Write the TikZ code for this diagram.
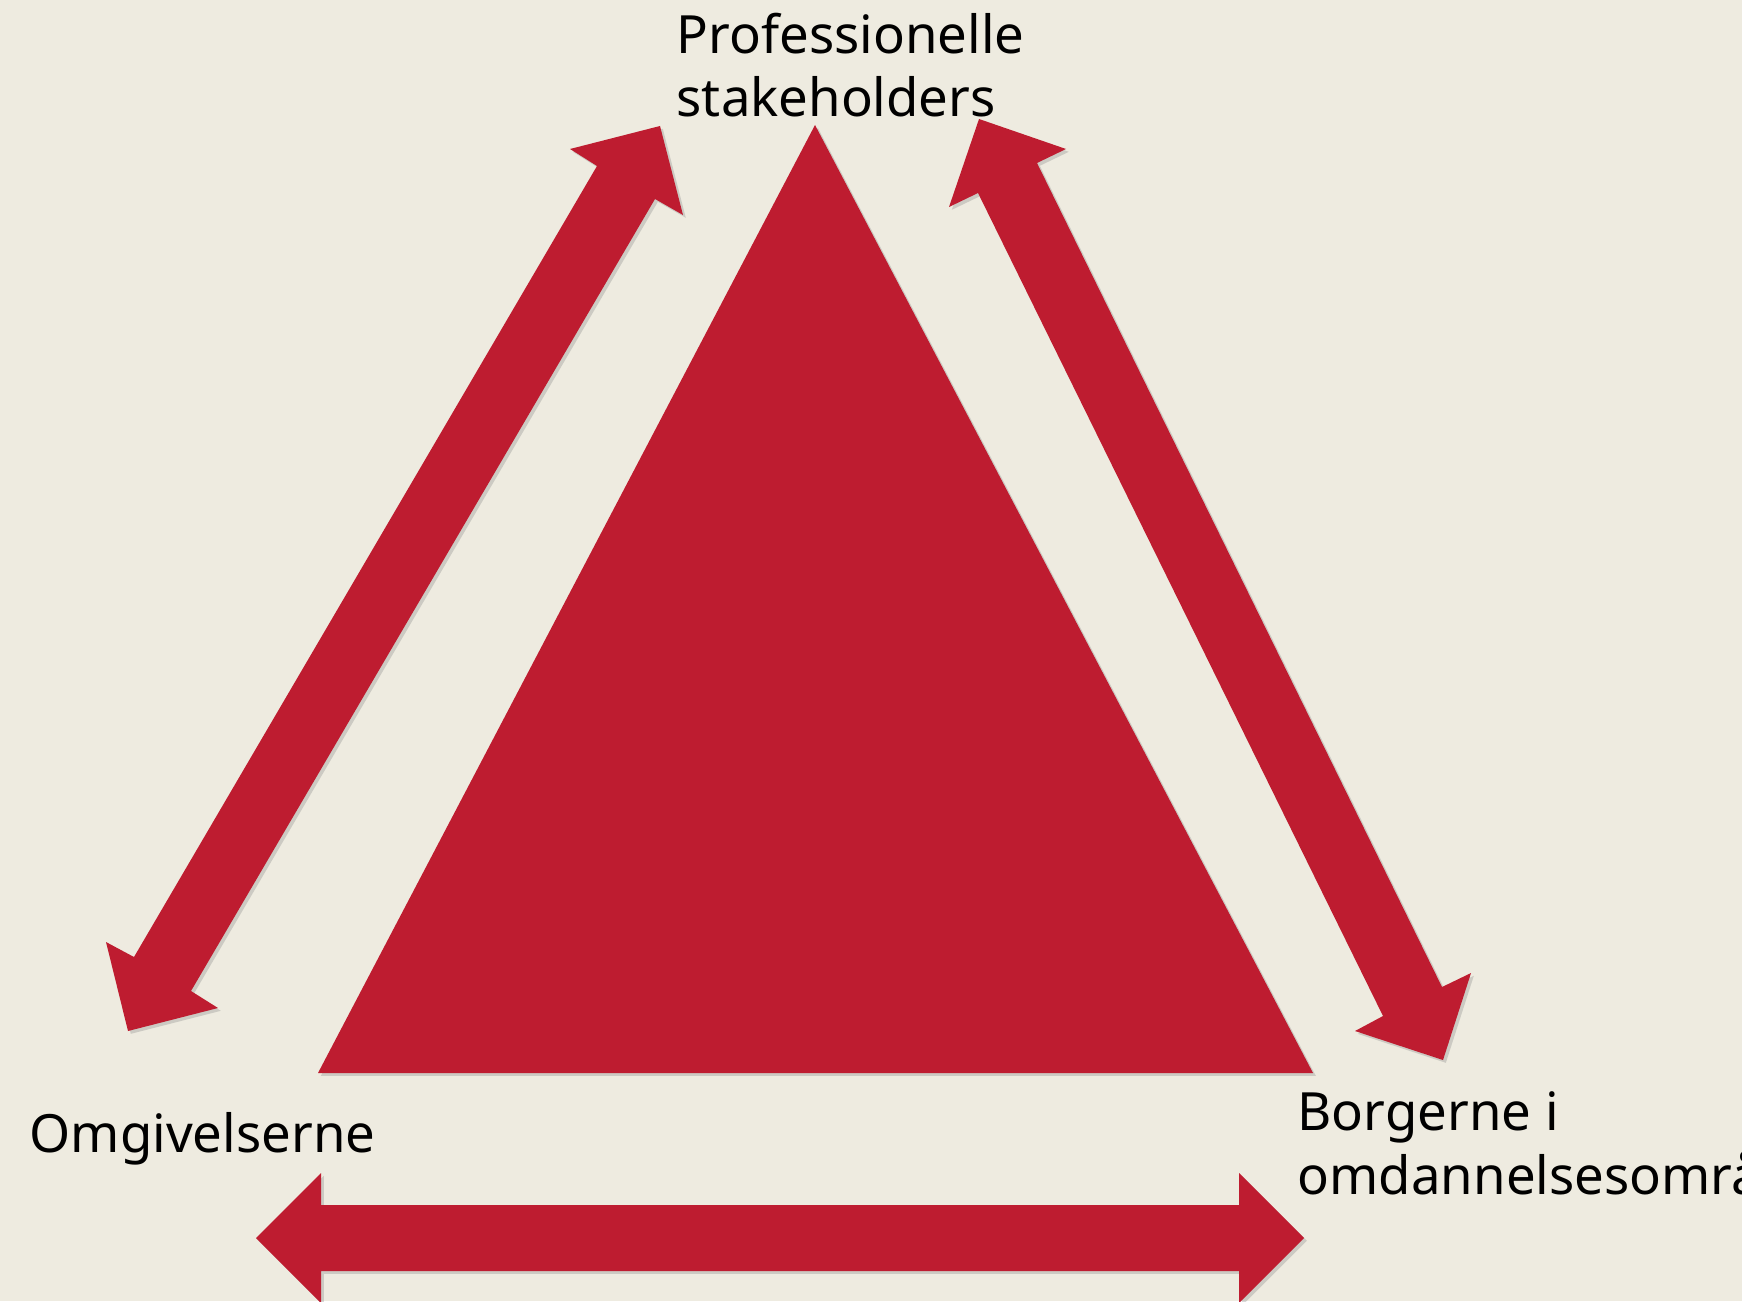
\documentclass[tikz,border=0pt]{standalone}
\usepackage{fontspec}
\setmainfont{Noto Sans}
\usetikzlibrary{shadows}
\definecolor{bgcream}{HTML}{EEEBE0}
\definecolor{blockred}{HTML}{BE1C30}

\begin{document}
\begin{tikzpicture}[
    block/.style={blockred, drop shadow={shadow xshift=0.8pt, shadow yshift=-0.8pt, opacity=0.3}},
    corner/.style={inner sep=0, anchor=base west, align=left, font=\fontsize{15}{18}\selectfont}
]
    \fill[bgcream] (0, 0) rectangle (17.42, 13.01);
    \useasboundingbox (0, 0) rectangle (17.42, 13.01);
    \clip (0, 0) rectangle (17.42, 13.01);
    % triangle
    \fill[block] (8.15, 11.76) -- (13.13, 2.28) -- (3.18, 2.28) -- cycle;
    % left double arrow
    \fill[block] (6.60, 11.75) -- (6.83, 10.86) -- (6.55, 11.02) -- (1.91, 3.10) -- (2.18, 2.93) -- (1.28, 2.70) -- (1.06, 3.59) -- (1.34, 3.44) -- (5.97, 11.35) -- (5.70, 11.52) -- cycle;
    % right double arrow
    \fill[block] (9.79, 11.82) -- (10.66, 11.52) -- (10.37, 11.38) -- (14.42, 3.14) -- (14.71, 3.28) -- (14.43, 2.41) -- (13.55, 2.70) -- (13.83, 2.85) -- (9.78, 11.08) -- (9.49, 10.94) -- cycle;
    % bottom double arrow
    \fill[block] (2.56, 0.63) -- (3.21, 1.28) -- (3.21, 0.96) -- (12.39, 0.96) -- (12.39, 1.28) -- (13.04, 0.63) -- (12.39, -0.02) -- (12.39, 0.30) -- (3.21, 0.30) -- (3.21, -0.02) -- cycle;
    % labels (base = last line)
    \node[corner] (prof) at (6.76, 11.84) {Professionelle\\stakeholders};
    \node[corner] (omg) at (0.29, 1.49) {Omgivelserne};
    \node[corner] (borg) at (12.97, 1.07) {Borgerne i\\omdannelsesområdet};
\end{tikzpicture}
\end{document}
